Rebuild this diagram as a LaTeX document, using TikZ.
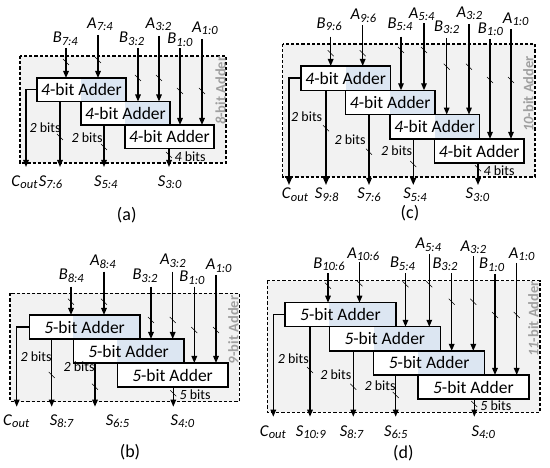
\documentclass[tikz,border=0pt]{standalone}
\usepackage{fontspec}
\setmainfont{Carlito}
\usetikzlibrary{arrows.meta}
\pgfdeclarelayer{back}\pgfdeclarelayer{bg}
\pgfsetlayers{back,bg,main}
\definecolor{panelgray}{RGB}{242,242,242}
\definecolor{adderblue}{RGB}{220,230,242}
\definecolor{titlegray}{RGB}{160,160,160}
\newcommand\sig[2]{\textit{#1}\raisebox{-2.2pt}{\fontsize{12.5}{14}\selectfont\textit{#2}}}
\newcommand\bitmk[2]{\draw[bitmark] ({#1-3},{#2-3}) -- ++(6,6);}
% name, x, ystart, target, labx, labbase, letter, sub, slashy
\newcommand\inarrow[9]{%
  \coordinate (#1) at (#2,#3);
  \draw[arr] (#1) -- (#1 |- #4.north);
  \node[lab] (#1l) at (#5,#6) {\sig{#7}{#8}};
  \bitmk{#2}{#9}}
% name, x, yend, source, labx, labbase, letter, sub
\newcommand\outarrow[8]{%
  \coordinate (#1) at (#2,#3);
  \draw[arr] (#1 |- #4.south) -- (#1);
  \node[lab] (#1l) at (#5,#6) {\sig{#7}{#8}};}
% name, x, y, n, slashx, slashy
\newcommand\bitslabel[6]{%
  \node[bits] (#1) at (#2,#3) {\textit{#4} bits};
  \bitmk{#5}{#6}}
\tikzset{
  arr/.style={line width=1.4pt, -{Triangle[length=7pt,width=5.5pt]}},
  adder/.style={draw, line width=1.4pt, anchor=north west, inner sep=0pt, outer sep=0pt,
    font=\fontsize{17.5}{20}\selectfont},
  lab/.style={inner sep=0pt, anchor=base, font=\fontsize{16.5}{18}\selectfont},
  bits/.style={inner sep=0pt, font=\fontsize{14}{16}\selectfont},
  bitmark/.style={line width=0.55pt},
  panel/.style={draw, dash pattern=on 3.2pt off 2pt, line width=1.1pt, fill=panelgray},
  vtitle/.style={rotate=90, inner sep=0pt, text=titlegray, font=\bfseries\fontsize{14.5}{16}\selectfont},
  captext/.style={inner sep=0pt, font=\fontsize{18}{20}\selectfont}
}
\begin{document}
\begin{tikzpicture}[x=1pt, y=-1pt]
\useasboundingbox (0,0) rectangle (550,468);

%================ panel (a)
\begin{pgfonlayer}{back}
  \draw[panel] (20,56) rectangle (226,163);
\end{pgfonlayer}
\node[adder, minimum width=89pt, minimum height=23.5pt] (a1) at (37,78) {\textit{4}-bit Adder};
\node[adder, minimum width=89pt, minimum height=23.5pt] (a2) at (81,101.5) {\textit{4}-bit Adder};
\node[adder, minimum width=89pt, minimum height=23.5pt] (a3) at (125,125) {\textit{4}-bit Adder};
\begin{pgfonlayer}{bg}
  \fill[white] (a1.north west) rectangle (a1.south east);
  \fill[white] (a2.north west) rectangle (a2.south east);
  \fill[white] (a3.north west) rectangle (a3.south east);
  \fill[adderblue] (a2.west |- a1.north) rectangle (a1.south east);
  \fill[adderblue] (a3.west |- a2.north) rectangle (a2.south east);
\end{pgfonlayer}
\inarrow{aB74}{66}{48}{a1}{65.3}{43}{B}{7:4}{62}
\inarrow{aA74}{98}{35}{a1}{100}{28.5}{A}{7:4}{60}
\inarrow{aB32}{138}{48}{a2}{131.7}{43}{B}{3:2}{78}
\inarrow{aA32}{159}{36}{a2}{158.5}{28.5}{A}{3:2}{78}
\inarrow{aB10}{180}{48}{a3}{180}{44}{B}{1:0}{91}
\inarrow{aA10}{202}{39}{a3}{205}{32.5}{A}{1:0}{91}
\coordinate (aC) at (26,167);
\draw[arr] (a1.west) -| (aC);
\node[lab] (aCl) at (24.5,186.7) {\sig{C}{out}};
\outarrow{aS76}{60}{167}{a1}{50.5}{186.7}{S}{7:6}
\outarrow{aS54}{104}{167}{a2}{105.8}{186.7}{S}{5:4}
\outarrow{aS30}{169}{167}{a3}{169.7}{186.7}{S}{3:0}
\bitslabel{aw1}{45}{128}{2}{60}{137}
\bitslabel{aw2}{87}{138}{2}{104}{147}
\bitslabel{aw3}{190}{157}{4}{169}{155}
\node[vtitle] (at) at (220.7,90.7) {\textit{8}-bit Adder};
\node[captext] (acap) at (126.7,215) {(a)};

%================ panel (b)
\begin{pgfonlayer}{back}
  \draw[panel] (10,293.3) rectangle (239.3,401.7);
\end{pgfonlayer}
\node[adder, minimum width=110.5pt, minimum height=24pt] (b1) at (29.3,315) {\textit{5}-bit Adder};
\node[adder, minimum width=110.5pt, minimum height=24pt] (b2) at (73.3,339) {\textit{5}-bit Adder};
\node[adder, minimum width=110.5pt, minimum height=24pt] (b3) at (117.3,363) {\textit{5}-bit Adder};
\begin{pgfonlayer}{bg}
  \fill[white] (b1.north west) rectangle (b1.south east);
  \fill[white] (b2.north west) rectangle (b2.south east);
  \fill[white] (b3.north west) rectangle (b3.south east);
  \fill[adderblue] (b2.west |- b1.north) rectangle (b1.south east);
  \fill[adderblue] (b3.west |- b2.north) rectangle (b2.south east);
\end{pgfonlayer}
\inarrow{bB84}{71}{286.7}{b1}{71.3}{280}{B}{8:4}{301.7}
\inarrow{bA84}{104}{271.7}{b1}{102.8}{266}{A}{8:4}{301.7}
\inarrow{bB32}{151}{286.7}{b2}{145}{280}{B}{3:2}{320}
\inarrow{bA32}{172.7}{271.7}{b2}{172.8}{265}{A}{3:2}{320}
\inarrow{bB10}{194.3}{286.7}{b3}{192}{282}{B}{1:0}{330}
\inarrow{bA10}{216}{275}{b3}{218.8}{270}{A}{1:0}{330}
\coordinate (bC) at (16.7,406.7);
\draw[arr] (b1.west) -| (bC);
\node[lab] (bCl) at (16.2,425) {\sig{C}{out}};
\outarrow{bS87}{51.7}{406.7}{b1}{61.7}{425}{S}{8:7}
\outarrow{bS65}{95}{406.7}{b2}{117.5}{425}{S}{6:5}
\outarrow{bS40}{173.3}{406.7}{b3}{182.5}{425}{S}{4:0}
\bitslabel{bw1}{36}{356.7}{2}{51.7}{375}
\bitslabel{bw2}{79}{366.7}{2}{95}{386.7}
\bitslabel{bw3}{195}{395}{5}{173.3}{393.3}
\node[vtitle] (bt) at (233.3,330) {\textit{9}-bit Adder};
\node[captext] (bcap) at (130,451.7) {(b)};

%================ panel (c)
\begin{pgfonlayer}{back}
  \draw[panel] (282.7,44) rectangle (535,177);
\end{pgfonlayer}
\node[adder, minimum width=89.5pt, minimum height=24.3pt] (c1) at (301,66) {\textit{4}-bit Adder};
\node[adder, minimum width=89.5pt, minimum height=24.3pt] (c2) at (345.5,90.3) {\textit{4}-bit Adder};
\node[adder, minimum width=89.5pt, minimum height=24.3pt] (c3) at (390,114.6) {\textit{4}-bit Adder};
\node[adder, minimum width=89.5pt, minimum height=24.3pt] (c4) at (434.5,138.9) {\textit{4}-bit Adder};
\begin{pgfonlayer}{bg}
  \fill[white] (c1.north west) rectangle (c1.south east);
  \fill[white] (c2.north west) rectangle (c2.south east);
  \fill[white] (c3.north west) rectangle (c3.south east);
  \fill[white] (c4.north west) rectangle (c4.south east);
  \fill[adderblue] (c2.west |- c1.north) rectangle (c1.south east);
  \fill[adderblue] (c3.west |- c2.north) rectangle (c2.south east);
  \fill[adderblue] (c4.west |- c3.north) rectangle (c3.south east);
\end{pgfonlayer}
\inarrow{cB96}{330.7}{36.7}{c1}{329.2}{28.3}{B}{9:6}{53.3}
\inarrow{cA96}{362.7}{25}{c1}{363.3}{20}{A}{9:6}{53.3}
\inarrow{cB54}{401}{36.7}{c2}{400}{28.3}{B}{5:4}{50}
\inarrow{cA54}{424}{23.3}{c2}{421.7}{18.3}{A}{5:4}{50}
\inarrow{cB32}{446.7}{38.3}{c3}{446.7}{31.7}{B}{3:2}{66.7}
\inarrow{cA32}{469}{24}{c3}{469.3}{17.5}{A}{3:2}{66.7}
\inarrow{cB10}{490}{39}{c4}{490.5}{33.5}{B}{1:0}{80}
\inarrow{cA10}{511}{29.3}{c4}{515.8}{23.3}{A}{1:0}{80}
\coordinate (cC) at (289,185);
\draw[arr] (c1.west) -| (cC);
\node[lab] (cCl) at (295,199) {\sig{C}{out}};
\outarrow{cS98}{326}{185}{c1}{326.7}{199}{S}{9:8}
\outarrow{cS76}{369}{185}{c2}{369}{199}{S}{7:6}
\outarrow{cS54}{413.3}{185}{c3}{415}{199}{S}{5:4}
\outarrow{cS30}{478}{185}{c4}{477.5}{199}{S}{3:0}
\bitslabel{cw1}{306.7}{116.7}{2}{326}{128.3}
\bitslabel{cw2}{350}{140}{2}{369}{151.7}
\bitslabel{cw3}{396.7}{151}{2}{413.3}{164}
\bitslabel{cw4}{499}{170.7}{4}{478}{168.3}
\node[vtitle] (ct) at (528.3,94) {\textit{10}-bit Adder};
\node[captext] (ccap) at (410,213) {(c)};

%================ panel (d)
\begin{pgfonlayer}{back}
  \draw[panel] (267.3,280.7) rectangle (540,412.3);
\end{pgfonlayer}
\node[adder, minimum width=111pt, minimum height=24.1pt] (d1) at (285,302.7) {\textit{5}-bit Adder};
\node[adder, minimum width=111pt, minimum height=24.1pt] (d2) at (329.3,326.8) {\textit{5}-bit Adder};
\node[adder, minimum width=111pt, minimum height=24.1pt] (d3) at (373.6,350.9) {\textit{5}-bit Adder};
\node[adder, minimum width=111pt, minimum height=24.1pt] (d4) at (417.9,375) {\textit{5}-bit Adder};
\begin{pgfonlayer}{bg}
  \fill[white] (d1.north west) rectangle (d1.south east);
  \fill[white] (d2.north west) rectangle (d2.south east);
  \fill[white] (d3.north west) rectangle (d3.south east);
  \fill[white] (d4.north west) rectangle (d4.south east);
  \fill[adderblue] (d2.west |- d1.north) rectangle (d1.south east);
  \fill[adderblue] (d3.west |- d2.north) rectangle (d2.south east);
  \fill[adderblue] (d4.west |- d3.north) rectangle (d3.south east);
\end{pgfonlayer}
\inarrow{dB106}{328}{273.3}{d1}{329}{268.3}{B}{10:6}{285.7}
\inarrow{dA106}{359.5}{262}{d1}{363.3}{258.3}{A}{10:6}{283.3}
\inarrow{dB54}{405.5}{273.3}{d2}{402.5}{268}{B}{5:4}{284.3}
\inarrow{dA54}{429.3}{254}{d2}{428.3}{249}{A}{5:4}{284.3}
\inarrow{dB32}{451.7}{273.3}{d3}{445}{268.3}{B}{3:2}{301.7}
\inarrow{dA32}{473.3}{256.5}{d3}{473.3}{251.7}{A}{3:2}{301.7}
\inarrow{dB10}{495}{274}{d4}{491.7}{269}{B}{1:0}{315}
\inarrow{dA10}{516.7}{263}{d4}{521.7}{258.3}{A}{1:0}{315}
\coordinate (dC) at (273.3,416.7);
\draw[arr] (d1.west) -| (dC);
\node[lab] (dCl) at (272.8,436) {\sig{C}{out}};
\outarrow{dS109}{310}{416.7}{d1}{310.8}{436}{S}{10:9}
\outarrow{dS87}{353.3}{416.7}{d2}{351.7}{436}{S}{8:7}
\outarrow{dS65}{395.7}{416.7}{d3}{395.8}{436}{S}{6:5}
\outarrow{dS40}{474.3}{416.7}{d4}{483.3}{436}{S}{4:0}
\bitslabel{dw1}{293.3}{358.3}{2}{310}{370}
\bitslabel{dw2}{335.8}{375}{2}{353.3}{386.7}
\bitslabel{dw3}{380}{386}{2}{395.7}{395}
\bitslabel{dw4}{495.8}{406}{5}{474.3}{404}
\node[vtitle] (dt) at (533.3,319) {\textit{11}-bit Adder};
\node[captext] (dcap) at (403.3,453.3) {(d)};
\end{tikzpicture}
\end{document}
